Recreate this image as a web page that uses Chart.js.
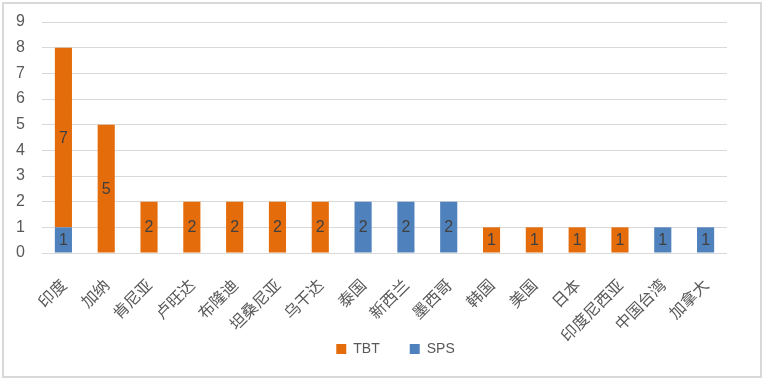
<!DOCTYPE html>
<html lang="zh">
<head>
  <meta charset="UTF-8">
  <title>TBT / SPS 通报</title>
  <script src="https://cdn.jsdelivr.net/npm/chart.js"></script>
  <style>
    body { margin: 0; background: #fff; }
    #wrap {
      position: absolute; left: 2px; top: 2px;
      width: 756px; height: 372px;
      border: 2px solid #d9d9d9; background: #fff;
    }
  </style>
</head>
<body>
  <div id="wrap"><canvas id="chart" width="756" height="372"></canvas></div>

  <script>
    // categories and counts
    const countries = ['印度', '加纳', '肯尼亚', '卢旺达', '布隆迪', '坦桑尼亚', '乌干达', '泰国',
      '新西兰', '墨西哥', '韩国', '美国', '日本', '印度尼西亚', '中国台湾', '加拿大'];
    const spsCounts = [1, 0, 0, 0, 0, 0, 0, 2, 2, 2, 0, 0, 0, 0, 1, 1];
    const tbtCounts = [7, 5, 2, 2, 2, 2, 2, 0, 0, 0, 1, 1, 1, 1, 0, 0];
    const yTicks = [0, 1, 2, 3, 4, 5, 6, 7, 8, 9];

    // simple value labels in the middle of each segment
    const barLabels = {
      id: 'barLabels',
      afterDatasetsDraw(chart) {
        const ctx = chart.ctx;
        ctx.save();
        ctx.font = '16px "Liberation Sans", Arial, sans-serif';
        ctx.fillStyle = '#404040';
        ctx.textAlign = 'center';
        ctx.textBaseline = 'middle';
        chart.data.datasets.forEach((ds, i) => {
          chart.getDatasetMeta(i).data.forEach((bar, j) => {
            const v = ds.data[j];
            if (!v) return;
            ctx.fillText(String(v), bar.x, (bar.y + bar.base) / 2 + 1);
          });
        });
        ctx.restore();
      }
    };

    // legend in the original sits right of centre and tucked up under the labels
    const legendShift = {
      id: 'legendShift',
      afterLayout(chart) {
        chart.legend.left += 29;
        chart.legend.right += 29;
        chart.legend.top -= 31;
      }
    };

    new Chart(document.getElementById('chart'), {
      type: 'bar',
      data: {
        labels: countries,
        datasets: [
          { label: 'SPS', data: spsCounts, backgroundColor: '#4F81BD', categoryPercentage: 1, barPercentage: 0.4 },
          { label: 'TBT', data: tbtCounts, backgroundColor: '#E46C0A', categoryPercentage: 1, barPercentage: 0.4 }
        ]
      },
      options: {
        responsive: false,
        animation: false,
        layout: { padding: { left: 2, right: 33, top: 18, bottom: 0 } },
        scales: {
          x: {
            stacked: true,
            grid: { display: false },
            border: { display: false },
            afterFit: axis => {
              axis.height = 90;
              axis.paddingLeft = 0;
              axis.paddingRight = 0;
            },
            ticks: {
              color: '#595959', maxRotation: 45, minRotation: 45, padding: 14, autoSkip: false,
              font: { family: '"Noto Sans CJK SC", sans-serif', size: 16 }
            }
          },
          y: {
            stacked: true,
            min: 0, max: 9,
            afterBuildTicks: axis => { axis.ticks = yTicks.map(v => ({ value: v })); },
            afterFit: axis => {
              axis.width = 36;
              axis.paddingTop = 0;
              axis.paddingBottom = 0;
            },
            grid: { color: '#d9d9d9', drawTicks: false },
            border: { display: false },
            ticks: {
              color: '#595959', padding: 17, autoSkip: false,
              font: { family: '"Liberation Sans", Arial, sans-serif', size: 16 }
            }
          }
        },
        plugins: {
          legend: {
            position: 'bottom',
            reverse: true,
            maxHeight: 33,
            labels: {
              boxWidth: 10, boxHeight: 10, padding: 30, color: '#595959',
              font: { family: '"Liberation Sans", Arial, sans-serif', size: 14 }
            }
          },
          tooltip: { enabled: false }
        }
      },
      plugins: [barLabels, legendShift]
    });
  </script>
</body>
</html>
